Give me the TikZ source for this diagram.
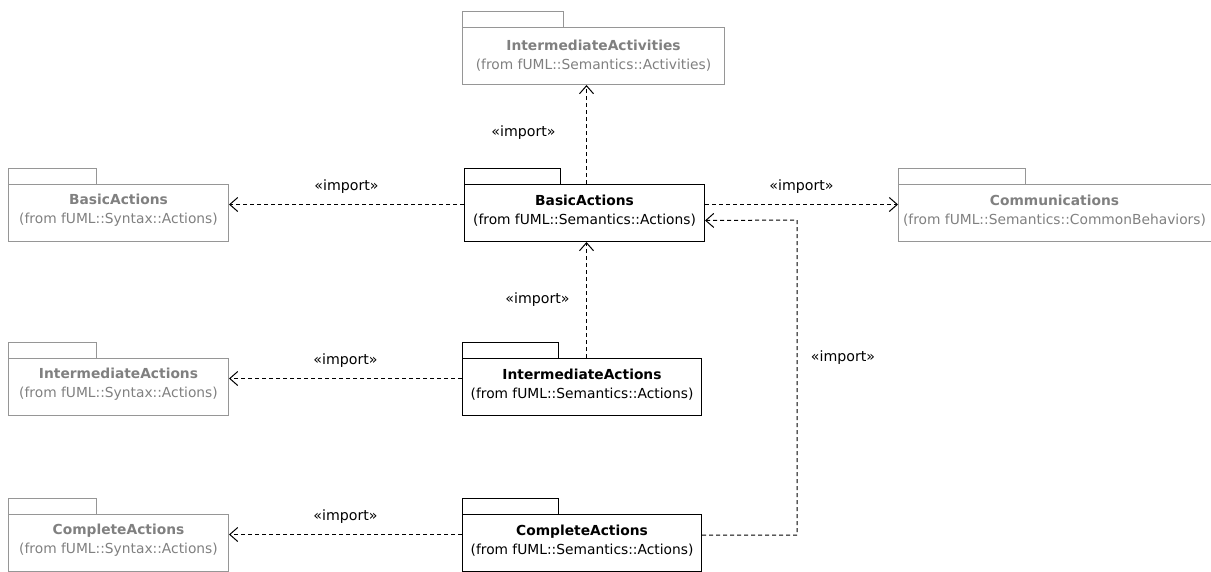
\documentclass[tikz,border=0pt]{standalone}
\usepackage{fontspec}
\setmainfont{DejaVu Sans}
\usetikzlibrary{arrows.meta}
\definecolor{gtext}{RGB}{128,128,128}
\definecolor{gline}{RGB}{150,150,150}
\tikzset{
  pkg/.style={draw, line width=1pt, anchor=north west, minimum height=57pt, inner sep=0pt},
  gpkg/.style={pkg, draw=gline},
  ptext/.style={align=center, inner sep=0pt, font=\fontsize{13.8}{19}\selectfont},
  gptext/.style={ptext, text=gtext},
  imp/.style={draw, line width=1pt, dash pattern=on 4pt off 3pt, -{Straight Barb[length=8pt,width=14pt,line width=1pt]}},
  lbl/.style={font=\fontsize{14.2}{16}\selectfont, inner sep=0pt}
}
\newcommand{\pkgtab}[3]{\draw[#3, line width=1pt] (#1.north west) rectangle ([xshift=#2, yshift=16pt]#1.north west);}
\begin{document}
\begin{tikzpicture}[x=1pt,y=-1pt]
\useasboundingbox (0,0) rectangle (1211,571);
\clip (0,0) rectangle (1211,571);
% package bodies
\node[gpkg, minimum width=262pt] (ia) at (462,27) {};
\node[gpkg, minimum width=220pt] (lba) at (8,184) {};
\node[pkg, minimum width=240pt] (ba) at (464,184) {};
\node[gpkg, minimum width=320pt] (com) at (898,184) {};
\node[gpkg, minimum width=220pt] (lia) at (8,358) {};
\node[pkg, minimum width=239pt] (iac) at (462,358) {};
\node[gpkg, minimum width=220pt] (lca) at (8,514) {};
\node[pkg, minimum width=239pt] (cac) at (462,514) {};
% tabs
\pkgtab{ia}{101pt}{gline}
\pkgtab{lba}{88pt}{gline}
\pkgtab{ba}{96pt}{black}
\pkgtab{com}{127pt}{gline}
\pkgtab{lia}{88pt}{gline}
\pkgtab{iac}{96pt}{black}
\pkgtab{lca}{88pt}{gline}
\pkgtab{cac}{96pt}{black}
% texts
\node[gptext] (iat) at ([yshift=-29pt]ia.north) {\textbf{IntermediateActivities}\\(from fUML::Semantics::Activities)};
\node[gptext] (lbat) at ([yshift=-26.5pt]lba.north) {\textbf{BasicActions}\\(from fUML::Syntax::Actions)};
\node[ptext] (bat) at ([yshift=-26.5pt]ba.north) {\textbf{BasicActions}\\(from fUML::Semantics::Actions)};
\node[gptext] (comt) at ([xshift=-4pt, yshift=-26.5pt]com.north) {\textbf{Communications}\\(from fUML::Semantics::CommonBehaviors)};
\node[gptext] (liat) at ([yshift=-26.5pt]lia.north) {\textbf{IntermediateActions}\\(from fUML::Syntax::Actions)};
\node[ptext] (iact) at ([yshift=-26.5pt]iac.north) {\textbf{IntermediateActions}\\(from fUML::Semantics::Actions)};
\node[gptext] (lcat) at ([yshift=-26.5pt]lca.north) {\textbf{CompleteActions}\\(from fUML::Syntax::Actions)};
\node[ptext] (cact) at ([yshift=-26.5pt]cac.north) {\textbf{CompleteActions}\\(from fUML::Semantics::Actions)};
% connectors
\coordinate (turn) at (797,220);
\draw[imp] ([xshift=2pt]ba.north) -- ([xshift=2pt]ba.north |- ia.south) node[lbl, midway, xshift=-63pt, yshift=2pt] {«import»};
\draw[imp] ([yshift=8.5pt]ba.west) -- ([yshift=8.5pt]lba.east) node[lbl, midway, yshift=18pt] {«import»};
\draw[imp] ([yshift=8.5pt]ba.east) -- ([yshift=8.5pt]com.west) node[lbl, midway, yshift=18pt] {«import»};
\draw[imp] ([xshift=2pt]ba.south |- iac.north) -- ([xshift=2pt]ba.south) node[lbl, midway, xshift=-49pt] {«import»};
\draw[imp] ([yshift=8.5pt]iac.west) -- ([yshift=8.5pt]lia.east) node[lbl, midway, yshift=18pt] {«import»};
\draw[imp] ([yshift=8.5pt]cac.west) -- ([yshift=8.5pt]lca.east) node[lbl, midway, yshift=18pt] {«import»};
\draw[imp] ([yshift=8pt]cac.east) -| (turn) -- ([yshift=-7.5pt]ba.east);
\node[lbl] (implong) at (843,358) {«import»};
\end{tikzpicture}
\end{document}
